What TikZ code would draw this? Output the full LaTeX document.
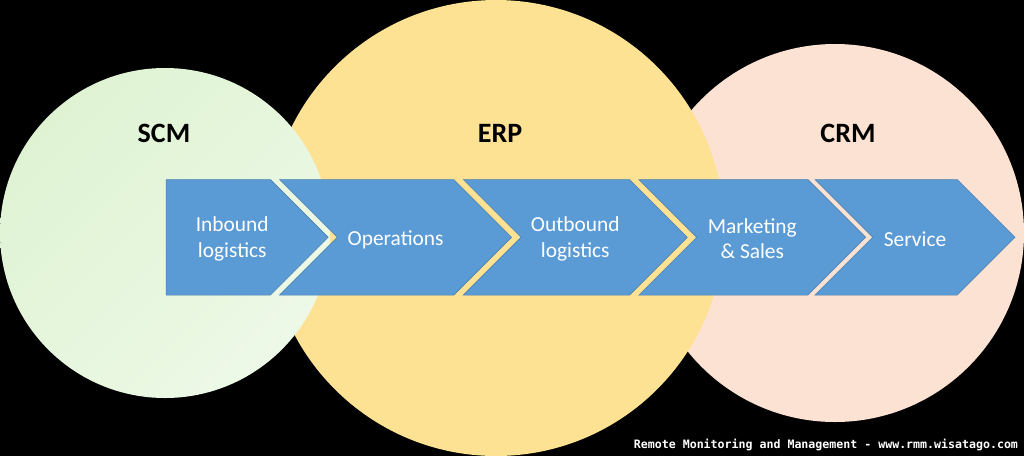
\documentclass[tikz,border=0pt]{standalone}
\usepackage{fontspec}
\setmainfont{Carlito}
\newfontfamily\footfont{DejaVu Sans Mono}
\usepackage{xcolor}
\usetikzlibrary{shapes.symbols, positioning}
\definecolor{scmdark}{HTML}{DFF3D3}
\definecolor{scmlight}{HTML}{EDF9E7}
\definecolor{erpyellow}{HTML}{FEE294}
\definecolor{crmred}{HTML}{FCE2D3}
\definecolor{stepblue}{HTML}{5B9BD5}
\definecolor{stepline}{HTML}{4F81AE}
\newcommand{\toproom}[1]{\rule{0pt}{#1}}
\begin{document}
\begin{tikzpicture}[x=1pt, y=-1pt,
          every node/.style={inner sep=0pt, outer sep=0pt},
          blob/.style={circle, minimum size=#1},
          title/.style={font=\fontsize{28}{30}\selectfont\bfseries, text=black},
          chevron/.style={draw=stepline, line width=0.6pt, fill=stepblue, shape=signal, signal to=east,
            signal from=west, signal pointer angle=90, minimum height=115.5pt, text=white, align=center,
            font=\fontsize{21.4}{25.5}\selectfont}]
        \fill[black, use as bounding box] (0,0) rectangle (1024,456);
        \node[blob=378pt, fill=crmred] (crm) at (835,233) {};
        \node[blob=456pt, fill=erpyellow] (erp) at (496,228) {};
        \node[blob=330pt, left color=scmdark, right color=scmlight, shading angle=45] (scm) at (165,233) {};
        \node[title] (scmtitle) at (164,133) {SCM};
        \node[title] (erptitle) at (500,133) {ERP};
        \node[title] (crmtitle) at (848,133) {CRM};
        \node[chevron, signal from=nowhere, minimum width=162pt] (inbound) at (218.3,237.3) {\toproom{18pt}\hspace*{28pt}Inbound\\\hspace*{28pt}logistics};
        \node[chevron, minimum width=232pt] (operations) at (395.6,237.3) {\toproom{19pt}Operations};
        \node[chevron, minimum width=224pt] (outbound) at (575.3,237.3) {\toproom{18pt}Outbound\\logistics};
        \node[chevron, minimum width=226.7pt] (marketing) at (752.3,237.3) {\toproom{18pt}Marketing\\\& Sales};
        \node[chevron, minimum width=200pt] (service) at (915,237.3) {\toproom{19pt}Service};
        \node[text=white, font=\footfont\bfseries\fontsize{11.6}{13}\selectfont, anchor=east] (footer) at (1018,445) {Remote Monitoring and Management - www.rmm.wisatago.com};
\end{tikzpicture}
\end{document}
